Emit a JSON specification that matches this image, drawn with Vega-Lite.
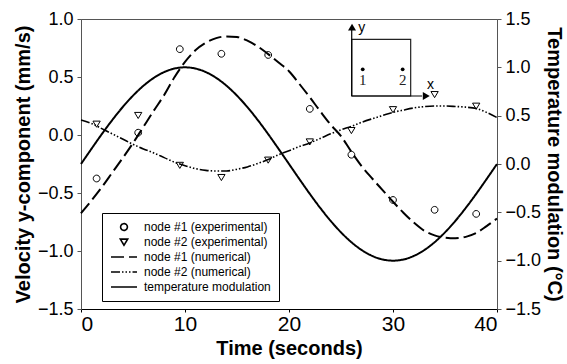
{
  "$schema": "https://vega.github.io/schema/vega-lite/v6.json",
  "width": 416,
  "height": 290,
  "autosize": {"type": "none"},
  "padding": {"left": 81, "top": 19, "right": 70, "bottom": 55},
  "background": "white",
  "config": {
    "font": "Liberation Sans",
    "mark": {"color": "black"},
    "view": {"stroke": "#555", "strokeWidth": 1},
    "axis": {
      "grid": false,
      "labelFont": "Liberation Sans",
      "labelColor": "black",
      "labelFontSize": 18,
      "titleFont": "Liberation Sans",
      "titleFontSize": 20,
      "titleFontWeight": "bold",
      "titleColor": "black",
      "tickColor": "#444",
      "domainColor": "#444",
      "tickSize": 4
    },
    "legend": {
      "labelFont": "Liberation Sans",
      "labelColor": "black"
    }
  },
  "datasets": {
    "n1": [
      {"series": "node #1 (numerical)", "t": 0, "v": -0.675},
      {"series": "node #1 (numerical)", "t": 1, "v": -0.565},
      {"series": "node #1 (numerical)", "t": 2, "v": -0.45},
      {"series": "node #1 (numerical)", "t": 3, "v": -0.325},
      {"series": "node #1 (numerical)", "t": 4, "v": -0.2},
      {"series": "node #1 (numerical)", "t": 5, "v": -0.07},
      {"series": "node #1 (numerical)", "t": 6, "v": 0.07},
      {"series": "node #1 (numerical)", "t": 7, "v": 0.21},
      {"series": "node #1 (numerical)", "t": 8, "v": 0.345},
      {"series": "node #1 (numerical)", "t": 9, "v": 0.5},
      {"series": "node #1 (numerical)", "t": 10, "v": 0.63},
      {"series": "node #1 (numerical)", "t": 11, "v": 0.73},
      {"series": "node #1 (numerical)", "t": 12, "v": 0.795},
      {"series": "node #1 (numerical)", "t": 13, "v": 0.835},
      {"series": "node #1 (numerical)", "t": 14, "v": 0.85},
      {"series": "node #1 (numerical)", "t": 15, "v": 0.845},
      {"series": "node #1 (numerical)", "t": 16, "v": 0.813},
      {"series": "node #1 (numerical)", "t": 17, "v": 0.763},
      {"series": "node #1 (numerical)", "t": 18, "v": 0.697},
      {"series": "node #1 (numerical)", "t": 19, "v": 0.625},
      {"series": "node #1 (numerical)", "t": 20, "v": 0.55},
      {"series": "node #1 (numerical)", "t": 21, "v": 0.44},
      {"series": "node #1 (numerical)", "t": 22, "v": 0.325},
      {"series": "node #1 (numerical)", "t": 23, "v": 0.205},
      {"series": "node #1 (numerical)", "t": 24, "v": 0.09},
      {"series": "node #1 (numerical)", "t": 25, "v": -0.01},
      {"series": "node #1 (numerical)", "t": 26, "v": -0.145},
      {"series": "node #1 (numerical)", "t": 27, "v": -0.27},
      {"series": "node #1 (numerical)", "t": 28, "v": -0.375},
      {"series": "node #1 (numerical)", "t": 29, "v": -0.475},
      {"series": "node #1 (numerical)", "t": 30, "v": -0.575},
      {"series": "node #1 (numerical)", "t": 31, "v": -0.67},
      {"series": "node #1 (numerical)", "t": 32, "v": -0.755},
      {"series": "node #1 (numerical)", "t": 33, "v": -0.825},
      {"series": "node #1 (numerical)", "t": 34, "v": -0.865},
      {"series": "node #1 (numerical)", "t": 35, "v": -0.885},
      {"series": "node #1 (numerical)", "t": 36, "v": -0.89},
      {"series": "node #1 (numerical)", "t": 37, "v": -0.878},
      {"series": "node #1 (numerical)", "t": 38, "v": -0.845},
      {"series": "node #1 (numerical)", "t": 39, "v": -0.785},
      {"series": "node #1 (numerical)", "t": 40, "v": -0.72}
    ],
    "n2": [
      {"series": "node #2 (numerical)", "t": 0, "v": 0.13},
      {"series": "node #2 (numerical)", "t": 1, "v": 0.1},
      {"series": "node #2 (numerical)", "t": 2, "v": 0.055},
      {"series": "node #2 (numerical)", "t": 3, "v": 0.01},
      {"series": "node #2 (numerical)", "t": 4, "v": -0.035},
      {"series": "node #2 (numerical)", "t": 5, "v": -0.08},
      {"series": "node #2 (numerical)", "t": 6, "v": -0.12},
      {"series": "node #2 (numerical)", "t": 7, "v": -0.155},
      {"series": "node #2 (numerical)", "t": 8, "v": -0.195},
      {"series": "node #2 (numerical)", "t": 9, "v": -0.235},
      {"series": "node #2 (numerical)", "t": 10, "v": -0.265},
      {"series": "node #2 (numerical)", "t": 11, "v": -0.29},
      {"series": "node #2 (numerical)", "t": 12, "v": -0.305},
      {"series": "node #2 (numerical)", "t": 13, "v": -0.31},
      {"series": "node #2 (numerical)", "t": 14, "v": -0.31},
      {"series": "node #2 (numerical)", "t": 15, "v": -0.295},
      {"series": "node #2 (numerical)", "t": 16, "v": -0.275},
      {"series": "node #2 (numerical)", "t": 17, "v": -0.245},
      {"series": "node #2 (numerical)", "t": 18, "v": -0.212},
      {"series": "node #2 (numerical)", "t": 19, "v": -0.17},
      {"series": "node #2 (numerical)", "t": 20, "v": -0.135},
      {"series": "node #2 (numerical)", "t": 21, "v": -0.1},
      {"series": "node #2 (numerical)", "t": 22, "v": -0.068},
      {"series": "node #2 (numerical)", "t": 23, "v": -0.03},
      {"series": "node #2 (numerical)", "t": 24, "v": 0.01},
      {"series": "node #2 (numerical)", "t": 25, "v": 0.045},
      {"series": "node #2 (numerical)", "t": 26, "v": 0.075},
      {"series": "node #2 (numerical)", "t": 27, "v": 0.11},
      {"series": "node #2 (numerical)", "t": 28, "v": 0.14},
      {"series": "node #2 (numerical)", "t": 29, "v": 0.168},
      {"series": "node #2 (numerical)", "t": 30, "v": 0.195},
      {"series": "node #2 (numerical)", "t": 31, "v": 0.215},
      {"series": "node #2 (numerical)", "t": 32, "v": 0.233},
      {"series": "node #2 (numerical)", "t": 33, "v": 0.245},
      {"series": "node #2 (numerical)", "t": 34, "v": 0.25},
      {"series": "node #2 (numerical)", "t": 35, "v": 0.25},
      {"series": "node #2 (numerical)", "t": 36, "v": 0.246},
      {"series": "node #2 (numerical)", "t": 37, "v": 0.24},
      {"series": "node #2 (numerical)", "t": 38, "v": 0.228},
      {"series": "node #2 (numerical)", "t": 39, "v": 0.195},
      {"series": "node #2 (numerical)", "t": 40, "v": 0.15}
    ],
    "temp": [
      {"series": "temperature modulation", "t": 0, "v": 0},
      {"series": "temperature modulation", "t": 1, "v": 0.156},
      {"series": "temperature modulation", "t": 2, "v": 0.309},
      {"series": "temperature modulation", "t": 3, "v": 0.454},
      {"series": "temperature modulation", "t": 4, "v": 0.588},
      {"series": "temperature modulation", "t": 5, "v": 0.707},
      {"series": "temperature modulation", "t": 6, "v": 0.809},
      {"series": "temperature modulation", "t": 7, "v": 0.891},
      {"series": "temperature modulation", "t": 8, "v": 0.951},
      {"series": "temperature modulation", "t": 9, "v": 0.988},
      {"series": "temperature modulation", "t": 10, "v": 1.0},
      {"series": "temperature modulation", "t": 11, "v": 0.988},
      {"series": "temperature modulation", "t": 12, "v": 0.951},
      {"series": "temperature modulation", "t": 13, "v": 0.891},
      {"series": "temperature modulation", "t": 14, "v": 0.809},
      {"series": "temperature modulation", "t": 15, "v": 0.707},
      {"series": "temperature modulation", "t": 16, "v": 0.588},
      {"series": "temperature modulation", "t": 17, "v": 0.454},
      {"series": "temperature modulation", "t": 18, "v": 0.309},
      {"series": "temperature modulation", "t": 19, "v": 0.156},
      {"series": "temperature modulation", "t": 20, "v": 0},
      {"series": "temperature modulation", "t": 21, "v": -0.156},
      {"series": "temperature modulation", "t": 22, "v": -0.309},
      {"series": "temperature modulation", "t": 23, "v": -0.454},
      {"series": "temperature modulation", "t": 24, "v": -0.588},
      {"series": "temperature modulation", "t": 25, "v": -0.707},
      {"series": "temperature modulation", "t": 26, "v": -0.809},
      {"series": "temperature modulation", "t": 27, "v": -0.891},
      {"series": "temperature modulation", "t": 28, "v": -0.951},
      {"series": "temperature modulation", "t": 29, "v": -0.988},
      {"series": "temperature modulation", "t": 30, "v": -1.0},
      {"series": "temperature modulation", "t": 31, "v": -0.988},
      {"series": "temperature modulation", "t": 32, "v": -0.951},
      {"series": "temperature modulation", "t": 33, "v": -0.891},
      {"series": "temperature modulation", "t": 34, "v": -0.809},
      {"series": "temperature modulation", "t": 35, "v": -0.707},
      {"series": "temperature modulation", "t": 36, "v": -0.588},
      {"series": "temperature modulation", "t": 37, "v": -0.454},
      {"series": "temperature modulation", "t": 38, "v": -0.309},
      {"series": "temperature modulation", "t": 39, "v": -0.156},
      {"series": "temperature modulation", "t": 40, "v": 0}
    ],
    "exp": [
      {"series": "node #1 (experimental)", "t": 1.5, "v": -0.375},
      {"series": "node #1 (experimental)", "t": 5.5, "v": 0.02},
      {"series": "node #1 (experimental)", "t": 9.5, "v": 0.74},
      {"series": "node #1 (experimental)", "t": 13.5, "v": 0.7},
      {"series": "node #1 (experimental)", "t": 18, "v": 0.69},
      {"series": "node #1 (experimental)", "t": 22, "v": 0.225},
      {"series": "node #1 (experimental)", "t": 26, "v": -0.17},
      {"series": "node #1 (experimental)", "t": 30, "v": -0.56},
      {"series": "node #1 (experimental)", "t": 34, "v": -0.645},
      {"series": "node #1 (experimental)", "t": 38, "v": -0.68},
      {"series": "node #2 (experimental)", "t": 1.5, "v": 0.095},
      {"series": "node #2 (experimental)", "t": 5.5, "v": 0.17},
      {"series": "node #2 (experimental)", "t": 9.5, "v": -0.26},
      {"series": "node #2 (experimental)", "t": 13.5, "v": -0.365},
      {"series": "node #2 (experimental)", "t": 18, "v": -0.215},
      {"series": "node #2 (experimental)", "t": 22, "v": -0.058},
      {"series": "node #2 (experimental)", "t": 26, "v": 0.04},
      {"series": "node #2 (experimental)", "t": 30, "v": 0.22},
      {"series": "node #2 (experimental)", "t": 34, "v": 0.35},
      {"series": "node #2 (experimental)", "t": 38, "v": 0.25}
    ],
    "insetBox": [{"x1": 26.03, "x2": 31.7, "y1": 0.336, "y2": 0.825}],
    "insetAxes": [
      {"x1": 26.03, "x2": 26.03, "y1": 0.336, "y2": 0.91},
      {"x1": 26.03, "x2": 32.8, "y1": 0.336, "y2": 0.336}
    ],
    "arrowUp": [{"t": 26.06, "v": 0.93}],
    "arrowRight": [{"t": 33.2, "v": 0.336}],
    "nodes": [
      {"t": 27.09, "v": 0.566, "label": "1"},
      {"t": 30.93, "v": 0.566, "label": "2"}
    ],
    "axisNames": [
      {"t": 26.99, "v": 0.89, "label": "y"},
      {"t": 33.6, "v": 0.394, "label": "x"}
    ]
  },
  "layer": [
    {
      "layer": [
        {
          "data": {"name": "n1"},
          "mark": {"type": "line", "color": "black", "strokeWidth": 2, "interpolate": "monotone"},
          "encoding": {
            "x": {"field": "t", "type": "quantitative", "scale": {"domain": [0, 40], "nice": false},
              "axis": {"title": "Time (seconds)", "values": [0, 10, 20, 30, 40], "labelFontSize": 21, "tickSize": 3, "labelPadding": 1, "titlePadding": 4, "domainColor": "black", "tickColor": "black"}},
            "y": {"field": "v", "type": "quantitative", "scale": {"domain": [-1.5, 1], "nice": false},
              "axis": {"title": "Velocity y-component (mm/s)", "values": [-1.5, -1, -0.5, 0, 0.5, 1], "format": ".1f", "labelPadding": 4, "titlePadding": 4, "domainColor": "#555", "tickColor": "#555"}},
            "strokeDash": {"field": "series", "type": "nominal",
              "scale": {"domain": ["node #1 (experimental)", "node #2 (experimental)", "node #1 (numerical)", "node #2 (numerical)", "temperature modulation"],
                "range": [[1, 0], [1, 0], [13, 5], [9, 2, 1.5, 2, 1.5, 2, 1.5, 2], [1, 0]]},
              "legend": {"title": null, "orient": "none", "legendX": 21, "legendY": 194, "clipHeight": 12, "rowPadding": 3, "padding": 8, "labelFontSize": 12, "labelOffset": 6, "symbolSize": 676, "symbolStrokeWidth": 1.6, "strokeColor": "black", "fillColor": "white"}}
          }
        },
        {
          "data": {"name": "n2"},
          "mark": {"type": "line", "color": "black", "strokeWidth": 1.6, "interpolate": "monotone"},
          "encoding": {
            "x": {"field": "t", "type": "quantitative"},
            "y": {"field": "v", "type": "quantitative"},
            "strokeDash": {"field": "series", "type": "nominal",
              "scale": {"domain": ["node #1 (experimental)", "node #2 (experimental)", "node #1 (numerical)", "node #2 (numerical)", "temperature modulation"],
                "range": [[1, 0], [1, 0], [13, 5], [9, 2, 1.5, 2, 1.5, 2, 1.5, 2], [1, 0]]},
              "legend": {"title": null, "orient": "none", "legendX": 21, "legendY": 194, "clipHeight": 12, "rowPadding": 3, "padding": 8, "labelFontSize": 12, "labelOffset": 6, "symbolSize": 676, "symbolStrokeWidth": 1.6, "strokeColor": "black", "fillColor": "white"}}
          }
        },
        {
          "data": {"name": "exp"},
          "mark": {"type": "point", "filled": false, "color": "black", "strokeWidth": 1, "size": 676, "opacity": 1},
          "encoding": {
            "x": {"field": "t", "type": "quantitative"},
            "y": {"field": "v", "type": "quantitative"},
            "shape": {"field": "series", "type": "nominal",
              "scale": {"domain": ["node #1 (experimental)", "node #2 (experimental)", "node #1 (numerical)", "node #2 (numerical)", "temperature modulation"],
                "range": ["M0.26,0A0.26,0.26,0,1,1,-0.26,0A0.26,0.26,0,1,1,0.26,0Z", "M-0.28,-0.22L0.28,-0.22L0,0.25Z", "stroke", "stroke", "stroke"]},
              "legend": {"title": null, "orient": "none", "legendX": 21, "legendY": 194, "clipHeight": 12, "rowPadding": 3, "padding": 8, "labelFontSize": 12, "labelOffset": 6, "symbolSize": 676, "symbolStrokeWidth": 1.6, "strokeColor": "black", "fillColor": "white"}}
          }
        },
        {
          "data": {"name": "insetBox"},
          "mark": {"type": "rect", "fillOpacity": 0, "stroke": "#222", "strokeWidth": 1.2},
          "encoding": {
            "x": {"field": "x1", "type": "quantitative"},
            "x2": {"field": "x2"},
            "y": {"field": "y1", "type": "quantitative"},
            "y2": {"field": "y2"}
          }
        },
        {
          "data": {"name": "insetAxes"},
          "mark": {"type": "rule", "color": "black", "strokeWidth": 1.2},
          "encoding": {
            "x": {"field": "x1", "type": "quantitative"},
            "x2": {"field": "x2"},
            "y": {"field": "y1", "type": "quantitative"},
            "y2": {"field": "y2"}
          }
        },
        {
          "data": {"name": "arrowUp"},
          "mark": {"type": "point", "shape": "triangle-up", "filled": true, "color": "black", "size": 64, "opacity": 1},
          "encoding": {
            "x": {"field": "t", "type": "quantitative"},
            "y": {"field": "v", "type": "quantitative"}
          }
        },
        {
          "data": {"name": "arrowRight"},
          "mark": {"type": "point", "shape": "triangle-right", "filled": true, "color": "black", "size": 64, "opacity": 1},
          "encoding": {
            "x": {"field": "t", "type": "quantitative"},
            "y": {"field": "v", "type": "quantitative"}
          }
        },
        {
          "data": {"name": "nodes"},
          "mark": {"type": "point", "shape": "circle", "filled": true, "color": "black", "size": 14, "opacity": 1},
          "encoding": {
            "x": {"field": "t", "type": "quantitative"},
            "y": {"field": "v", "type": "quantitative"}
          }
        },
        {
          "data": {"name": "nodes"},
          "mark": {"type": "text", "font": "Liberation Serif", "fontSize": 15, "color": "#222", "align": "center", "baseline": "top", "dy": 4},
          "encoding": {
            "x": {"field": "t", "type": "quantitative"},
            "y": {"field": "v", "type": "quantitative"},
            "text": {"field": "label"}
          }
        },
        {
          "data": {"name": "axisNames"},
          "mark": {"type": "text", "font": "Liberation Sans", "fontSize": 14, "color": "black", "align": "center", "baseline": "alphabetic"},
          "encoding": {
            "x": {"field": "t", "type": "quantitative"},
            "y": {"field": "v", "type": "quantitative"},
            "text": {"field": "label"}
          }
        }
      ]
    },
    {
      "data": {"name": "temp"},
      "mark": {"type": "line", "color": "black", "strokeWidth": 2, "interpolate": "monotone"},
      "encoding": {
        "x": {"field": "t", "type": "quantitative"},
        "y": {"field": "v", "type": "quantitative", "scale": {"domain": [-1.5, 1.5], "nice": false},
          "axis": {"orient": "right", "title": "Temperature modulation (°C)", "values": [-1.5, -1, -0.5, 0, 0.5, 1, 1.5], "format": ".1f", "labelPadding": 4, "titlePadding": 3, "domainColor": "#555", "tickColor": "#555"}},
        "strokeDash": {"field": "series", "type": "nominal",
          "scale": {"domain": ["node #1 (experimental)", "node #2 (experimental)", "node #1 (numerical)", "node #2 (numerical)", "temperature modulation"],
            "range": [[1, 0], [1, 0], [13, 5], [9, 2, 1.5, 2, 1.5, 2, 1.5, 2], [1, 0]]},
          "legend": {"title": null, "orient": "none", "legendX": 21, "legendY": 194, "clipHeight": 12, "rowPadding": 3, "padding": 8, "labelFontSize": 12, "labelOffset": 6, "symbolSize": 676, "symbolStrokeWidth": 1.6, "strokeColor": "black", "fillColor": "white"}}
      }
    }
  ],
  "resolve": {"scale": {"y": "independent"}}
}
